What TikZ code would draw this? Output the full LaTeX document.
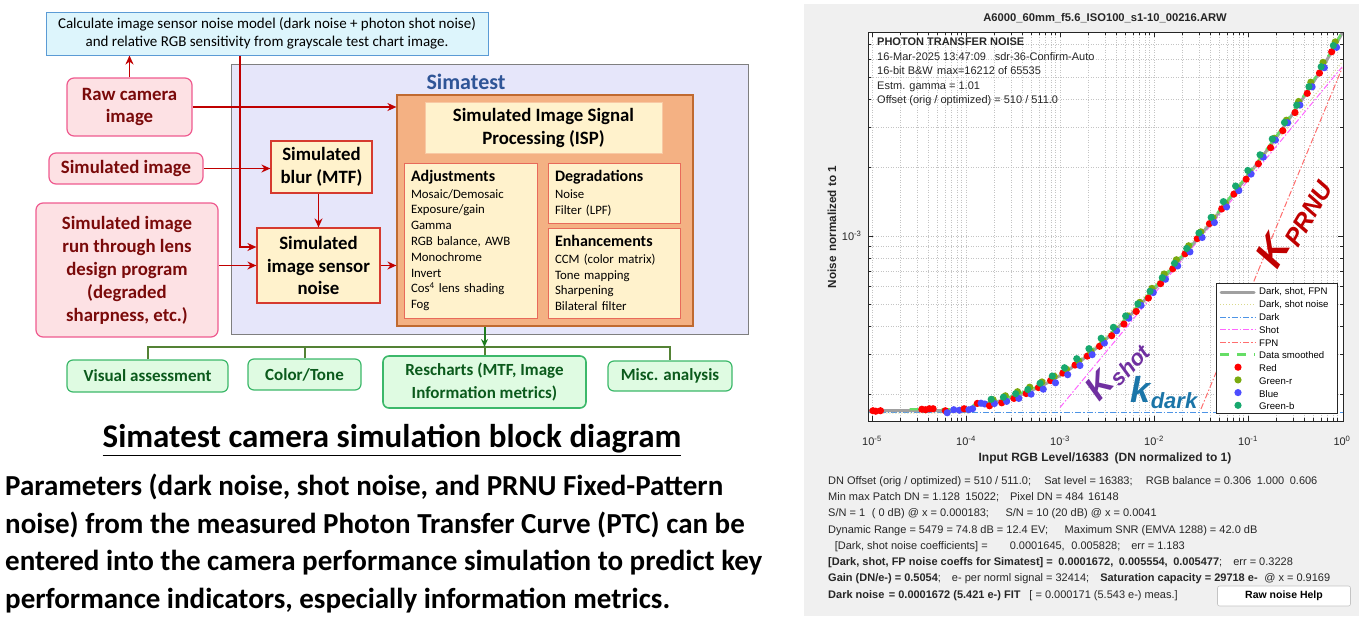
\documentclass[tikz,border=0pt]{standalone}
\usepackage{fontspec}
\setmainfont{Carlito}
\newfontfamily\plotfont{Liberation Sans}
\usetikzlibrary{arrows.meta}

\definecolor{calcfill}{HTML}{DDF5FC}
\definecolor{calcline}{HTML}{5B9BD5}
\definecolor{panelfill}{HTML}{E6E6FA}
\definecolor{panelline}{HTML}{7F7F7F}
\definecolor{simblue}{HTML}{2F5597}
\definecolor{pinkfill}{HTML}{FDE1E4}
\definecolor{pinkline}{HTML}{EF5A8F}
\definecolor{intext}{HTML}{7A0A0A}
\definecolor{cream}{HTML}{FFF2CC}
\definecolor{boxred}{HTML}{D63A2F}
\definecolor{ispfill}{HTML}{F4B183}
\definecolor{ispline}{HTML}{C06A30}
\definecolor{titleline}{HTML}{F8C9A4}
\definecolor{subline}{HTML}{E86A5A}
\definecolor{arrowred}{HTML}{C00000}
\definecolor{busgreen}{HTML}{548235}
\definecolor{tipgreen}{HTML}{1E7B1E}
\definecolor{outfill}{HTML}{DFFBE2}
\definecolor{outdraw}{HTML}{3CB86A}
\definecolor{outtext}{HTML}{0B5A1C}
% plot colours
\definecolor{figgray}{HTML}{F0F0F0}
\definecolor{axgray}{HTML}{262626}
\definecolor{gridgray}{HTML}{C4C4C4}
\definecolor{totgray}{HTML}{A0A0A0}
\definecolor{dsyellow}{HTML}{D9D98C}
\definecolor{dkblue}{HTML}{4D94E6}
\definecolor{shotmag}{HTML}{FF66FF}
\definecolor{fpnred}{HTML}{FF6E6E}
\definecolor{smgreen}{HTML}{66DD66}
\definecolor{ptred}{HTML}{FF0000}
\definecolor{ptgreenr}{HTML}{7AAA10}
\definecolor{ptblue}{HTML}{4D4DFF}
\definecolor{ptgreenb}{HTML}{17A86E}
\definecolor{kprnu}{HTML}{C00000}
\definecolor{kshot}{HTML}{7030A0}
\definecolor{kdark}{HTML}{1B75A8}

\def\fsz#1#2{\fontsize{#1}{#2}\selectfont}
\def\modelY#1{463-227*log10(sqrt(2.7956+3084.7*pow(10,#1)+2999.7*pow(10,2*(#1))))}

\tikzset{
  inbox/.style={draw=pinkline, fill=pinkfill, line width=1.2pt, rounded corners=7pt, text=intext, font=\fsz{18.8}{22.5}\bfseries, align=center, inner sep=0pt},
  simbox/.style={draw=boxred, fill=cream, line width=1.2pt, font=\fsz{18.8}{22.5}\bfseries, align=center, inner sep=0pt},
  subbox/.style={draw=subline, fill=cream, line width=1pt, font=\fsz{12.8}{15.8}, align=left, inner xsep=7pt, inner ysep=0pt},
  outbox/.style={draw=outdraw, fill=outfill, line width=1.2pt, rounded corners=6pt, text=outtext, font=\fsz{17}{21}\bfseries, align=center, inner sep=0pt},
  redarrow/.style={draw=arrowred, line width=1.8pt, -{Stealth[length=9pt,width=8pt]}},
  greenline/.style={draw=busgreen, line width=2pt},
  greenarrow/.style={draw=tipgreen, line width=2pt, -{Stealth[length=8pt,width=7pt]}},
  gridline/.style={draw=gridgray, dotted, line width=0.5pt},
  axline/.style={draw=axgray, line width=0.6pt},
  dashdot/.style={line width=1pt, dash pattern=on 6pt off 2pt on 1.5pt off 2pt},
  totline/.style={draw=totgray, line width=3pt, line cap=round},
  ticklab/.style={text=axgray, font=\plotfont\fsz{11}{11}},
  legtext/.style={anchor=west, text=black, font=\plotfont\fsz{9.6}{9.6}, inner sep=0pt}
}

\begin{document}
\begin{tikzpicture}[x=1pt, y=-1pt]
\useasboundingbox (0,0) rectangle (1359,616);
%%%%% BLOCK DIAGRAM %%%%%
\node[draw=calcline, fill=calcfill, line width=1pt, minimum width=442pt, minimum height=43pt, inner sep=0pt, align=center, font=\fsz{15}{18}] (calc) at (267,33.5)
  {Calculate image sensor noise model (dark noise + photon shot noise)\\ and relative RGB sensitivity from grayscale test chart image.};
\node[draw=panelline, fill=panelfill, line width=0.8pt, minimum width=517pt, minimum height=270pt] (panel) at (489.5,199) {};
\node[text=simblue, font=\fsz{22}{22}\bfseries] (simtitle) at (466,82) {Simatest};

\node[inbox, minimum width=125pt, minimum height=58pt] (raw) at (129.5,107) {Raw camera\\ image};
\node[inbox, minimum width=154pt, minimum height=31pt] (simimg) at (126,168.5) {Simulated image};
\node[inbox, minimum width=182pt, minimum height=134pt, font=\fsz{18.8}{23}\bfseries] (lens) at (127,270)
  {Simulated image\\ run through lens\\ design program\\ (degraded\\ sharpness, etc.)};

\node[simbox, minimum width=101pt, minimum height=52pt] (blur) at (321.5,167) {Simulated\\ blur (MTF)};
\node[simbox, minimum width=123pt, minimum height=75pt] (sensor) at (318.5,265.5) {Simulated\\ image sensor\\ noise};

\node[draw=ispline, fill=ispfill, line width=1.2pt, minimum width=296pt, minimum height=231pt] (isp) at (545,210.5) {};
\node[draw=titleline, fill=cream, line width=1pt, minimum width=237pt, minimum height=51pt, inner sep=0pt, align=center, font=\fsz{18.8}{23}\bfseries] (isptitle) at (543.5,127.5)
  {Simulated Image Signal\\ Processing (ISP)};
\node[subbox, text width=119pt, minimum height=155pt] (adjust) at (470.5,240.5)
  {{\fsz{16}{18}\bfseries Adjustments}\\[1pt] Mosaic/Demosaic\\ Exposure/gain\\ Gamma\\ RGB balance, AWB\\ Monochrome\\ Invert\\ Cos\textsuperscript{4} lens shading\\ Fog};
\node[subbox, text width=118pt, minimum height=60pt] (degrade) at (614,193)
  {{\fsz{16}{18}\bfseries Degradations}\\[1pt] Noise\\ Filter (LPF)};
\node[subbox, text width=118pt, minimum height=90pt] (enhance) at (614,273)
  {{\fsz{16}{18}\bfseries Enhancements}\\[1pt] CCM (color matrix)\\ Tone mapping\\ Sharpening\\ Bilateral filter};

\node[outbox, minimum width=161pt, minimum height=32pt] (visual) at (147.5,376) {Visual assessment};
\node[outbox, minimum width=113pt, minimum height=31pt] (colortone) at (304.5,374.5) {Color/Tone};
\node[outbox, minimum width=203pt, minimum height=52pt, line width=1.6pt, font=\fsz{17}{23}\bfseries] (rescharts) at (484.5,382) {Rescharts (MTF, Image\\ Information metrics)};
\node[outbox, minimum width=124pt, minimum height=30pt] (misc) at (670,376) {Misc. analysis};

% connectors
\coordinate (tap) at (240,0);
\coordinate (bus) at (0,347);
\draw[redarrow] (raw.north) -- (raw.north |- calc.south);
\draw[redarrow] (calc.south -| tap) |- ([yshift=18.5pt]sensor.west);
\draw[redarrow] (raw.east) -- (raw.east -| isp.west);
\draw[redarrow] (simimg.east) -- (simimg.east -| blur.west);
\draw[redarrow] (sensor.north |- blur.south) -- (sensor.north);
\draw[redarrow] (lens.east |- sensor.west) -- (sensor.west);
\draw[redarrow] (sensor.east) -- (sensor.east -| isp.west);
\draw[greenline] (visual.north) -- (visual.north |- bus) -- (misc.north |- bus) -- (misc.north);
\draw[greenline] (colortone.north) -- (colortone.north |- bus);
\draw[greenline] (rescharts.north |- bus) -- (rescharts.north);
\draw[greenarrow] (rescharts.north |- isp.south) -- (rescharts.north |- bus);

\node[font=\fsz{33}{33}\bfseries] (diagtitle) at (392,440) {\underline{Simatest camera simulation block diagram}};
\node[anchor=north west, align=left, inner sep=0pt, font=\fsz{29}{37.5}\bfseries] (summary) at (5,474)
  {Parameters (dark noise, shot noise, and PRNU Fixed-Pattern\\
   noise) from the measured Photon Transfer Curve (PTC) can be\\
   entered into the camera performance simulation to predict key\\
   performance indicators, especially information metrics.};

%%%%% PHOTON TRANSFER PLOT %%%%%
\fill[figgray] (804,4) rectangle (1359,616);
\fill[white] (868,32) rectangle (1343,421);
% grid and ticks
\foreach \d in {-5,...,-1}{
  \foreach \m in {1,...,9}{
    \pgfmathsetmacro\gx{1342+94*(\d+log10(\m))}
    \pgfmathsetmacro\tl{ifthenelse(\m==1,5,3)}
    \draw[gridline] (\gx,32) -- (\gx,421);
    \draw[axline] (\gx,421) -- ++(0,-\tl) (\gx,32) -- ++(0,\tl);
  }}
\foreach \v in {2,...,9}{
  \pgfmathsetmacro\gy{463-227*log10(\v)}
  \draw[gridline] (868,\gy) -- (1343,\gy);
  \draw[axline] (868,\gy) -- ++(3,0) (1343,\gy) -- ++(-3,0);
}
\foreach \v in {1,...,7}{
  \pgfmathsetmacro\gy{463-227*(1+log10(\v))}
  \pgfmathsetmacro\tl{ifthenelse(\v==1,5,3)}
  \draw[gridline] (868,\gy) -- (1343,\gy);
  \draw[axline] (868,\gy) -- ++(\tl,0) (1343,\gy) -- ++(-\tl,0);
}
\foreach \d in {-5,...,0}
  \node[ticklab] at ({1342+94*\d},441) {10\textsuperscript{\d}};
\node[ticklab, anchor=east] at (865,236) {10\textsuperscript{-3}};

% model curves
\begin{scope}
\clip (868,32) rectangle (1343,421);
\draw[dkblue, dashdot] (868,412.3) -- (1343,412.3);
\draw[shotmag, dashdot] ({1342-94*3},407.5) -- (1342,67);
\draw[fpnred, dashdot] ({1342-94*1.5},408.9) -- (1342,68.4);
\draw[totline] plot[domain=-5.04:0, samples=90, smooth] ({1342+94*\x},{\modelY{\x}});
\draw[dsyellow, line width=1pt, dotted] plot[domain=-5.04:0, samples=90, smooth] ({1342+94*\x},{463-227*log10(sqrt(2.706+3396.6*pow(10,\x)))});
\draw[smgreen, line width=2.2pt, dash pattern=on 9pt off 7pt] plot[domain=-4.6:0, samples=60, smooth] ({1342+94*\x},{\modelY{\x}-1.5});
\end{scope}

% measured patches
\foreach \lx/\c/\dy in {-4.99/ptred/0, -4.96/ptred/0.5, -4.91/ptred/0, -4.47/ptred/-1.5, -4.43/ptred/-1,
    -4.39/ptred/-2, -4.35/ptred/-2, -4.22/ptred/0, -4.20/ptblue/2, -4.13/ptblue/-1, -4.07/ptblue/-0.5,
    -4.02/ptred/-2, -3.97/ptblue/-1, -3.93/ptblue/-2, -3.88/ptred/-2, -3.84/ptblue/-1.5, -3.80/ptblue/0}{
  \pgfmathsetmacro\px{1342+94*\lx}
  \pgfmathsetmacro\py{\modelY{\lx}+\dy}
  \fill[\c] (\px,\py) circle[radius=3.6pt];
}
\foreach \lx in {-3.72,-3.59,...,0.0}{
  \foreach \c/\o/\dy/\k in {ptred/-0.03/1/1, ptgreenr/0.008/-2.5/2, ptblue/0.022/3/3, ptgreenb/-0.012/-4/4}{
    \pgfmathsetmacro\px{1342+94*(\lx+\o)}
    \pgfmathsetmacro\py{\modelY{(\lx+\o)}+\dy+1.5*sin(3000*\lx+97*\k)}
    \fill[\c] (\px,\py) circle[radius=3.6pt];
  }}

% legend
\node[draw=axgray, fill=white, line width=0.6pt, minimum width=121pt, minimum height=130pt, inner sep=0pt] (legend) at (1276.5,348) {};
\draw[totline] (1221,292) -- (1254,292);
\draw[dsyellow, line width=1pt, dotted] (1220,304.5) -- (1255,304.5);
\draw[dkblue, dashdot] (1220,317) -- (1255,317);
\draw[shotmag, dashdot] (1220,329.5) -- (1255,329.5);
\draw[fpnred, dashdot] (1220,342) -- (1255,342);
\draw[smgreen, line width=2.2pt, dash pattern=on 9pt off 8pt] (1220,354.5) -- (1255,354.5);
\foreach \c [count=\i] in {ptred,ptgreenr,ptblue,ptgreenb}
  \fill[\c] (1238,{354.5+12.7*\i}) circle[radius=3.6pt];
\foreach \t [count=\i from 0] in {{Dark, shot, FPN},{Dark, shot noise},Dark,Shot,FPN,Data smoothed,Red,Green-r,Blue,Green-b}
  \node[legtext] at (1259,{292+12.7*\i}) {\t};

% slope labels
\node[rotate=60, text=kprnu, font=\plotfont\bfseries\itshape, inner sep=0pt] (labprnu) at (1294,222)
  {\fsz{40}{40}K\raisebox{-7pt}{\fsz{25}{25}PRNU}};
\node[rotate=47, text=kshot, font=\plotfont\bfseries\itshape, inner sep=0pt] (labshot) at (1117,370)
  {\fsz{34}{34}K\raisebox{-5pt}{\fsz{22}{22}shot}};
\node[text=kdark, font=\plotfont\bfseries\itshape, inner sep=0pt] (labdark) at (1164,393)
  {\fsz{36}{36}k\raisebox{-6pt}{\fsz{22}{22}dark}};

\draw[axline] (868,32) rectangle (1343,421);

% plot texts
\node[text=axgray, font=\plotfont\fsz{11.2}{11.2}\bfseries] (ptitle) at (1105,18) {A6000\_60mm\_f5.6\_ISO100\_s1-10\_00216.ARW};
\node[anchor=north west, align=left, inner sep=0pt, text=axgray, font=\plotfont\fsz{11}{14.5}] (pinfo) at (877,38)
  {\textbf{PHOTON TRANSFER NOISE}\\ 16-Mar-2025 13:47:09\hspace{0.8em}sdr-36-Confirm-Auto\\ 16-bit B\&W\hspace{0.4em}max=16212 of 65535\\
   Estm. gamma = 1.01\\ Offset (orig / optimized) = 510 / 511.0};
\node[text=axgray, font=\plotfont\fsz{12}{12}\bfseries] (xlab) at (1105,458) {Input RGB Level/16383\hspace{0.5em}(DN normalized to 1)};
\node[rotate=90, text=axgray, font=\plotfont\fsz{11.7}{11.7}\bfseries] (ylab) at (832,227) {Noise\hspace{0.4em}normalized to 1};
\node[anchor=north west, align=left, inner sep=0pt, text=axgray, font=\plotfont\fsz{11}{16.3}] (pstats) at (828,476)
  {DN Offset (orig / optimized) = 510 / 511.0;\hspace{1.2em}Sat level = 16383;\hspace{1.2em}RGB balance = 0.306\hspace{0.5em}1.000\hspace{0.5em}0.606\\
   Min max Patch DN = 1.128\hspace{0.5em}15022;\hspace{1em}Pixel DN = 484\hspace{0.4em}16148\\
   S/N = 1\hspace{0.6em}( 0 dB) @ x = 0.000183;\hspace{1.5em}S/N = 10 (20 dB) @ x = 0.0041\\
   Dynamic Range = 5479 = 74.8 dB = 12.4 EV;\hspace{1.5em}Maximum SNR (EMVA 1288) = 42.0 dB\\
   \hspace{0.6em}[Dark, shot noise coefficients] =\hspace{2em}0.0001645,\hspace{0.6em}0.005828;\hspace{1em}err = 1.183\\
   \textbf{[Dark, shot, FP noise coeffs for Simatest] =\hspace{0.5em}0.0001672,\hspace{0.5em}0.005554,\hspace{0.5em}0.005477};\hspace{1em}err = 0.3228\\
   \textbf{Gain (DN/e-) = 0.5054};\hspace{1em}e- per norml signal = 32414;\hspace{1em}\textbf{Saturation capacity = 29718 e-}\hspace{0.6em}@ x = 0.9169\\
   \textbf{Dark noise\hspace{0.4em}= 0.0001672 (5.421 e-) FIT}\hspace{0.8em}[ = 0.000171 (5.543 e-) meas.]};
\node[draw=gridgray, fill=white, rounded corners=2pt, line width=0.6pt, minimum width=133pt, minimum height=20pt, inner sep=0pt, font=\plotfont\fsz{10.5}{10.5}\bfseries] (helpbtn) at (1284,596) {Raw noise Help};
\end{tikzpicture}
\end{document}
